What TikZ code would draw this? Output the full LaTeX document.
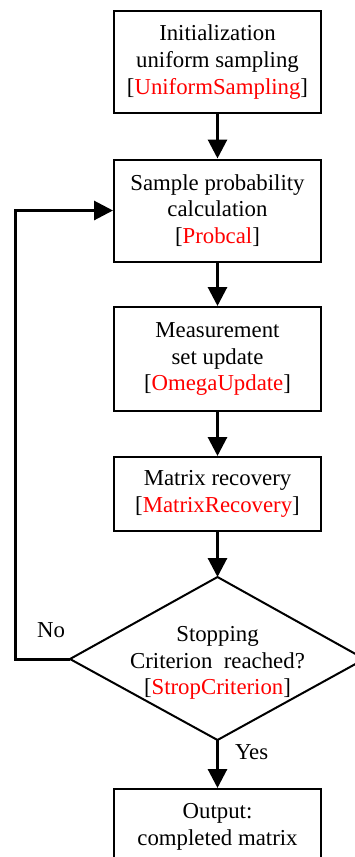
\documentclass[tikz,border=0pt]{standalone}
\usepackage{fontspec}
\setmainfont{Liberation Serif}
\usetikzlibrary{arrows.meta}
\newcommand\fnname[1]{\textcolor{red}{#1}}
\begin{document}
\begin{tikzpicture}[x=1pt,y=-1pt,
  txt/.style={align=center, inner sep=0pt, font=\fontsize{22.8}{26.8}\selectfont},
  box/.style={txt, draw, line width=2pt, minimum width=207pt},
  lbl/.style={inner sep=0pt, font=\fontsize{22.8}{26.8}\selectfont},
  flow/.style={line width=3pt, -{Triangle[length=19pt,width=19pt]}},
]
\useasboundingbox (0,0) rectangle (355,857);
\clip (0,0) rectangle (355,857);

% process steps
\node[box, minimum height=102pt] (init) at (217.5,62)
  {Initialization\\uniform sampling\\{[}\fnname{UniformSampling}{]}};
\node[box, minimum height=102pt] (prob) at (217.5,210.5)
  {Sample probability\\calculation\\{[}\fnname{Probcal}{]}};
\node[box, minimum height=104pt] (omega) at (217.5,359)
  {Measurement\\set update\\{[}\fnname{OmegaUpdate}{]}};
\node[box, minimum height=74pt] (mrec) at (217.5,494)
  {Matrix recovery\\{[}\fnname{MatrixRecovery}{]}};

% decision
\coordinate (dt) at (217.5,577);
\coordinate (dr) at (364.5,659);
\coordinate (db) at (217.5,740);
\coordinate (dl) at (70,659);
\draw[line width=2pt, line join=miter] (dt) -- (dr) -- (db) -- (dl) -- cycle;
\node[txt] (crit) at (217.5,663)
  {Stopping\\Criterion\ \ reached?\\{[}\fnname{StropCriterion}{]}};

% output
\node[box, minimum height=110pt, anchor=north] (out) at (217.5,788) {};
\node[txt, anchor=north] (outtxt) at ([yshift=-15pt]out.north)
  {Output:\\completed matrix};

% connectors
\draw[flow] (init) -- (prob);
\draw[flow] (prob) -- (omega);
\draw[flow] (omega) -- (mrec);
\draw[flow] (mrec) -- (dt);
\draw[flow] (db) -- node[lbl, pos=0.25, right=16pt] {Yes} (out);
\draw[flow] (dl) -- node[lbl, pos=0.345, above=20pt] {No} ++(-55,0) |- (prob.west);
\end{tikzpicture}
\end{document}
